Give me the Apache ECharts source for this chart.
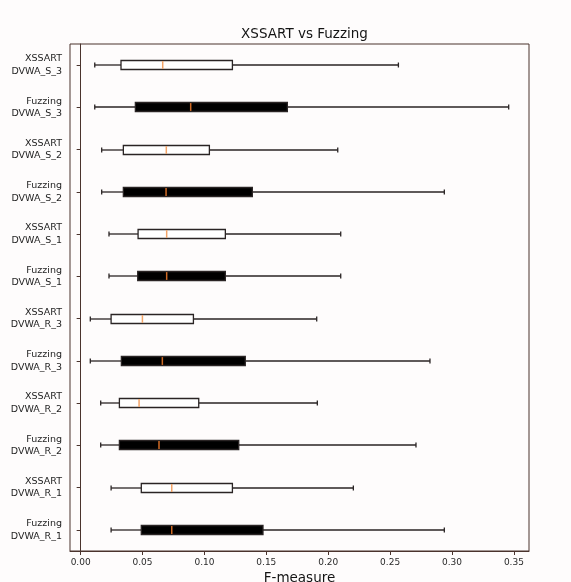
<!DOCTYPE html>
<html>
<head>
<meta charset="utf-8">
<script src="https://cdn.jsdelivr.net/npm/echarts@6/dist/echarts.min.js"></script>
<style>
html,body{margin:0;padding:0;background:#fefcfc;}
#chart{width:571px;height:582px;}
</style>
</head>
<body>
<div id="chart"></div>
<script>
// Categories from bottom to top
var categories = [
  'Fuzzing\nDVWA_R_1', 'XSSART\nDVWA_R_1',
  'Fuzzing\nDVWA_R_2', 'XSSART\nDVWA_R_2',
  'Fuzzing\nDVWA_R_3', 'XSSART\nDVWA_R_3',
  'Fuzzing\nDVWA_S_1', 'XSSART\nDVWA_S_1',
  'Fuzzing\nDVWA_S_2', 'XSSART\nDVWA_S_2',
  'Fuzzing\nDVWA_S_3', 'XSSART\nDVWA_S_3'
];
var kinds   = [1, 0, 1, 0, 1, 0, 1, 0, 1, 0, 1, 0]; // 1 = Fuzzing (filled), 0 = XSSART
var lows    = [0.0246, 0.0246, 0.0162, 0.0162, 0.0078, 0.0078, 0.0229, 0.0229, 0.0170, 0.0170, 0.0114, 0.0114];
var q1s     = [0.0490, 0.0490, 0.0313, 0.0313, 0.0329, 0.0246, 0.0461, 0.0464, 0.0345, 0.0345, 0.0442, 0.0326];
var medians = [0.0736, 0.0736, 0.0633, 0.0472, 0.0660, 0.0499, 0.0695, 0.0695, 0.0690, 0.0692, 0.0889, 0.0663];
var q3s     = [0.1473, 0.1226, 0.1277, 0.0954, 0.1330, 0.0911, 0.1169, 0.1169, 0.1387, 0.1040, 0.1670, 0.1226];
var highs   = [0.2938, 0.2203, 0.2709, 0.1912, 0.2822, 0.1907, 0.2101, 0.2101, 0.2938, 0.2077, 0.3458, 0.2567];

var data = categories.map(function (c, i) {
  return [i, lows[i], q1s[i], medians[i], q3s[i], highs[i], kinds[i]];
});

var FONT = 'DejaVu Sans';
var FRAME = '#4a332d';
var LINE = '#2a2424';

var chart = echarts.init(document.getElementById('chart'));
chart.setOption({
  backgroundColor: '#fefcfc',
  animation: false,
  title: {
    text: 'XSSART vs Fuzzing',
    left: 299.5,
    textAlign: 'center',
    top: 22,
    textStyle: { fontFamily: FONT, fontSize: 13.5, fontWeight: 'normal', color: '#141414' }
  },
  grid: {
    left: 70, right: 42, top: 44, bottom: 31,
    outerBoundsMode: 'none',
    containLabel: false,
    show: true, borderColor: FRAME, borderWidth: 1, backgroundColor: 'transparent'
  },
  xAxis: {
    type: 'value',
    min: -0.0086,
    max: 0.3622,
    splitNumber: 7,
    name: 'F-measure',
    nameLocation: 'middle',
    nameGap: 17,
    nameTextStyle: { fontFamily: FONT, fontSize: 13.5, color: '#141414' },
    axisLine: { show: true, lineStyle: { color: FRAME, width: 1 } },
    axisTick: { show: true, length: 4, lineStyle: { color: FRAME } },
    splitLine: { show: false },
    axisLabel: {
      fontFamily: FONT, fontSize: 9, color: '#2a2a2a', margin: 7,
      showMinLabel: false, showMaxLabel: false,
      formatter: function (v) { return v.toFixed(2); }
    }
  },
  yAxis: {
    type: 'category',
    data: categories,
    axisLine: { show: true, lineStyle: { color: FRAME, width: 1 } },
    axisTick: { show: true, alignWithLabel: true, length: 4, lineStyle: { color: FRAME } },
    splitLine: { show: false },
    axisLabel: {
      fontFamily: FONT, fontSize: 9.5, lineHeight: 12.5, color: '#1e1e1e', margin: 8, align: 'right'
    }
  },
  series: [{
    type: 'custom',
    data: data,
    encode: { x: [1, 2, 3, 4, 5], y: 0 },
    renderItem: function (params, api) {
      var cat = api.value(0);
      var y = api.coord([0, cat])[1];
      var xs = [1, 2, 3, 4, 5].map(function (k) { return api.coord([api.value(k), cat])[0]; });
      var filled = api.value(6) === 1;
      var yc = Math.round(y);
      var bh = 9, ch = 5;
      var lw = 1.3;
      return {
        type: 'group',
        children: [
          { type: 'line', shape: { x1: xs[0], y1: yc, x2: xs[1], y2: yc }, style: { stroke: LINE, lineWidth: lw } },
          { type: 'line', shape: { x1: xs[3], y1: yc, x2: xs[4], y2: yc }, style: { stroke: LINE, lineWidth: lw } },
          { type: 'line', shape: { x1: xs[0], y1: yc - ch / 2, x2: xs[0], y2: yc + ch / 2 }, style: { stroke: LINE, lineWidth: lw } },
          { type: 'line', shape: { x1: xs[4], y1: yc - ch / 2, x2: xs[4], y2: yc + ch / 2 }, style: { stroke: LINE, lineWidth: lw } },
          { type: 'rect', shape: { x: xs[1], y: yc - bh / 2, width: xs[3] - xs[1], height: bh },
            style: { fill: filled ? '#000000' : '#ffffff', stroke: LINE, lineWidth: lw } },
          { type: 'line', shape: { x1: xs[2], y1: yc - bh / 2 + 0.6, x2: xs[2], y2: yc + bh / 2 - 0.6 },
            style: { stroke: filled ? '#d06a24' : '#f3a468', lineWidth: 1.5 } }
        ]
      };
    }
  }]
});
</script>
</body>
</html>
